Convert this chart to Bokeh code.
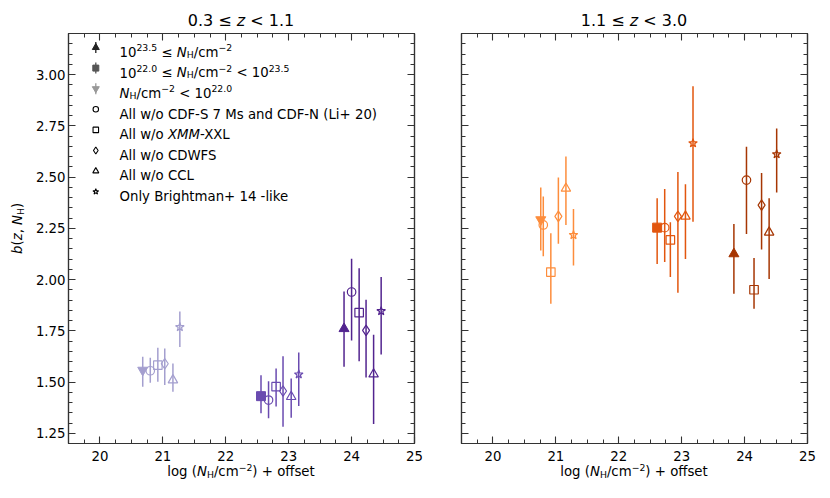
import math
from bokeh.plotting import figure
from bokeh.models import Range1d, Label, LinearAxis, FixedTicker, PrintfTickFormatter, Div
from bokeh.layouts import row, column
from bokeh.embed import file_html
from bokeh.resources import INLINE

# ---------------- data ----------------
panel_titles = [[("0.3 ≤ ", "n"), ("z", "i"), (" < 1.1", "n")],
                [("1.1 ≤ ", "n"), ("z", "i"), (" < 3.0", "n")]]
variants = ["main", "circle", "square", "diamond", "triangle", "star"]

# left panel: 0.3 <= z < 1.1
L_low_x = [20.68, 20.80, 20.92, 21.03, 21.16, 21.27]
L_low_b = [1.558, 1.555, 1.582, 1.589, 1.509, 1.768]
L_low_lo = [1.477, 1.496, 1.501, 1.485, 1.453, 1.671]
L_low_hi = [1.623, 1.618, 1.667, 1.663, 1.590, 1.844]

L_mid_x = [22.56, 22.68, 22.80, 22.91, 23.04, 23.16]
L_mid_b = [1.431, 1.412, 1.477, 1.456, 1.428, 1.537]
L_mid_lo = [1.347, 1.323, 1.380, 1.282, 1.326, 1.383]
L_mid_hi = [1.533, 1.504, 1.566, 1.626, 1.517, 1.644]

L_high_x = [23.88, 24.00, 24.12, 24.23, 24.35, 24.47]
L_high_b = [1.760, 1.939, 1.838, 1.752, 1.538, 1.846]
L_high_lo = [1.574, 1.703, 1.601, 1.522, 1.295, 1.634]
L_high_hi = [1.942, 2.101, 2.055, 1.901, 1.731, 2.012]

# right panel: 1.1 <= z < 3.0
R_low_x = [20.76, 20.80, 20.92, 21.04, 21.16, 21.28]
R_low_b = [2.292, 2.266, 2.036, 2.308, 2.444, 2.217]
R_low_lo = [2.141, 2.114, 1.882, 2.174, 2.266, 2.068]
R_low_hi = [2.449, 2.405, 2.226, 2.498, 2.600, 2.344]

R_mid_x = [22.61, 22.73, 22.82, 22.94, 23.06, 23.18]
R_mid_b = [2.253, 2.253, 2.193, 2.308, 2.308, 2.665]
R_mid_lo = [2.076, 2.085, 2.012, 1.935, 2.100, 2.282]
R_mid_hi = [2.396, 2.441, 2.279, 2.525, 2.465, 2.943]

R_high_x = [23.83, 24.03, 24.15, 24.27, 24.39, 24.51]
R_high_b = [2.125, 2.485, 1.950, 2.363, 2.230, 2.611]
R_high_lo = [1.930, 2.222, 1.857, 2.146, 2.003, 2.425]
R_high_hi = [2.271, 2.647, 2.105, 2.519, 2.396, 2.737]

x_ticks = [20, 21, 22, 23, 24, 25]
y_ticks = [1.25, 1.50, 1.75, 2.00, 2.25, 2.50, 2.75, 3.00]

left_colors = {"low": "#a49fcf", "mid": "#6a4bb0", "high": "#52248f"}
right_colors = {"low": "#fd8d3c", "mid": "#e2560e", "high": "#a63603"}

legend_rows = [
    [("10", "n"), ("23.5", "sup"), (" ≤ ", "n"), ("N", "i"), ("H", "sub"), ("/cm", "n"), ("−2", "sup")],
    [("10", "n"), ("22.0", "sup"), (" ≤ ", "n"), ("N", "i"), ("H", "sub"), ("/cm", "n"), ("−2", "sup"),
     (" < 10", "n"), ("23.5", "sup")],
    [("N", "i"), ("H", "sub"), ("/cm", "n"), ("−2", "sup"), (" < 10", "n"), ("22.0", "sup")],
    [("All w/o CDF-S 7 Ms and CDF-N (Li+ 20)", "n")],
    [("All w/o ", "n"), ("XMM", "i"), ("-XXL", "n")],
    [("All w/o CDWFS", "n")],
    [("All w/o CCL", "n")],
    [("Only Brightman+ 14 -like", "n")],
]
legend_markers = ["triangle", "square", "inverted_triangle", "circle", "square", "diamond", "triangle", "star"]
legend_colors = ["#222222", "#555555", "#999999", "black", "black", "black", "black", "black"]
legend_sizes = [7, 6, 7, 5.5, 5.5, 7, 6, 6]

xlabel_runs = [("log (", "n"), ("N", "i"), ("H", "sub"), ("/cm", "n"), ("−2", "sup"), (")", "n"), (" + offset", "n")]
ylabel_runs = [("b", "i"), ("(", "n"), ("z", "i"), (", ", "n"), ("N", "i"), ("H", "sub"), (")", "n")]

# ---------------- layout constants ----------------
FW, FH = 346, 410
X0, X1 = 19.5, 25.0
Y0, Y1 = 1.2, 3.2
FONT = "DejaVu Sans"
FS = 13.3
AXC = "#333333"
TITLE_H = 29
XLAB_H = 22
BT, BB = 4, 24

W = {' ': .318, '.': .318, ',': .318, '-': .361, '/': .337, '(': .390, ')': .390, '+': .838,
     '<': .838, '≤': .838, '−': .838}
for d in "0123456789":
    W[d] = .636
W.update(dict(A=.684, B=.686, C=.698, D=.770, E=.632, F=.575, G=.775, H=.752, I=.295, J=.295,
              K=.656, L=.557, M=.863, N=.748, O=.787, P=.603, Q=.787, R=.695, S=.635, T=.611,
              U=.732, V=.684, W=.989, X=.685, Y=.611, Z=.685,
              a=.613, b=.635, c=.550, d=.635, e=.615, f=.352, g=.635, h=.634, i=.278, j=.278,
              k=.579, l=.278, m=.974, n=.634, o=.612, p=.635, q=.635, r=.411, s=.521, t=.392,
              u=.634, v=.592, w=.818, x=.592, y=.592, z=.525))


def tw(s, size):
    return sum(W.get(ch, 0.6) for ch in s) * size


def rich(p, runs, x, y, fs, color="black"):
    """Place mixed-style text inside the frame (screen units relative to the frame)."""
    off = 0.0
    for t, st in runs:
        size = fs * 0.7 if st in ("sup", "sub") else fs
        lead = len(t) - len(t.lstrip(" "))
        s = t.strip(" ")
        dy = 0.36 * fs if st == "sup" else (-0.15 * fs if st == "sub" else 0.0)
        if s:
            p.add_layout(Label(x=x + off + tw(" " * lead, size), y=y + dy, x_units="screen",
                               y_units="screen", text=s, text_font=FONT,
                               text_font_size=f"{size:.2f}px",
                               text_font_style="italic" if st == "i" else "normal",
                               text_color=color, text_align="left", text_baseline="alphabetic"))
        off += tw(t, size)


def html(runs):
    out = []
    for t, st in runs:
        t = t.replace("&", "&amp;").replace("<", "&lt;")
        if st == "i":
            out.append(f"<i>{t}</i>")
        elif st == "sup":
            out.append(f'<span style="font-size:70%;position:relative;top:-0.5em">{t}</span>')
        elif st == "sub":
            out.append(f'<span style="font-size:70%;position:relative;top:0.22em">{t}</span>')
        else:
            out.append(t)
    return "".join(out)


BASE = f"font-family:'{FONT}';color:black;white-space:pre;"


def spacer(w, h):
    return Div(text="", width=w, height=h, margin=(0, 0, 0, 0))


def style_axis(ax, labels=True, fmt="%d"):
    ax.major_tick_in = 7
    ax.major_tick_out = 0
    ax.minor_tick_in = 4
    ax.minor_tick_out = 0
    ax.axis_line_color = AXC
    ax.axis_line_width = 1.2
    ax.major_tick_line_color = AXC
    ax.minor_tick_line_color = AXC
    ax.major_tick_line_width = 1.1
    ax.minor_tick_line_width = 1.0
    ax.major_label_text_font = FONT
    ax.formatter = PrintfTickFormatter(format=fmt)
    if labels:
        ax.major_label_text_font_size = f"{FS}px"
        ax.major_label_text_color = "black"
    else:
        ax.major_label_text_font_size = "0px"
        ax.major_label_text_color = None
        ax.major_label_standoff = 0


xtick = FixedTicker(ticks=x_ticks, minor_ticks=[19.5 + 0.25 * i for i in range(23)])
ytick = FixedTicker(ticks=y_ticks, minor_ticks=[round(1.2 + 0.05 * i, 2) for i in range(41)])


def make_panel(idx, groups, colors, border_l, border_r):
    p = figure(frame_width=FW, frame_height=FH, x_range=Range1d(X0, X1), y_range=Range1d(Y0, Y1),
               output_backend="svg", toolbar_location=None, min_border_left=border_l,
               min_border_right=border_r, min_border_top=BT, min_border_bottom=BB,
               x_axis_location=None, y_axis_location=None, title=None)
    p.grid.visible = False
    p.outline_line_color = AXC
    p.outline_line_width = 1.2
    p.background_fill_color = "white"
    p.border_fill_color = "white"

    bx = LinearAxis(ticker=xtick)
    style_axis(bx, True, "%d")
    bx.major_label_standoff = 7
    p.add_layout(bx, "below")
    tx = LinearAxis(ticker=xtick)
    style_axis(tx, False)
    p.add_layout(tx, "above")
    ly = LinearAxis(ticker=ytick)
    style_axis(ly, idx == 0, "%.2f")
    if idx == 0:
        ly.major_label_standoff = 3
    p.add_layout(ly, "left")
    ry = LinearAxis(ticker=ytick)
    style_axis(ry, False)
    p.add_layout(ry, "right")

    main_marker = {"low": "inverted_triangle", "mid": "square", "high": "triangle"}
    sizes = {"inverted_triangle": 10, "square": 8.5, "triangle": 10, "circle": 8.5,
             "diamond": 10.5, "star": 9}
    for cls, (xs, bs, los, his) in groups.items():
        c = colors[cls]
        p.segment(x0=xs, y0=los, x1=xs, y1=his, line_color=c, line_width=1.5)
        for k, var in enumerate(variants):
            if var == "main":
                m = main_marker[cls]
                s = sizes[m] + (0.5 if m == "square" else 0)
                p.scatter(x=[xs[k]], y=[bs[k]], marker=m, size=s, fill_color=c, line_color=c,
                          line_width=1.0)
            else:
                s = sizes[var] if var != "triangle" else 9.5
                p.scatter(x=[xs[k]], y=[bs[k]], marker=var, size=s, fill_color=None,
                          line_color=c, line_width=1.2)
    return p


p1 = make_panel(0, {"low": (L_low_x, L_low_b, L_low_lo, L_low_hi),
                    "mid": (L_mid_x, L_mid_b, L_mid_lo, L_mid_hi),
                    "high": (L_high_x, L_high_b, L_high_lo, L_high_hi)}, left_colors, 40, 20)
p2 = make_panel(1, {"low": (R_low_x, R_low_b, R_low_lo, R_low_hi),
                    "mid": (R_mid_x, R_mid_b, R_mid_lo, R_mid_hi),
                    "high": (R_high_x, R_high_b, R_high_lo, R_high_hi)}, right_colors, 27, 20)

# legend (left panel)
px_x = FW / (X1 - X0)
px_y = FH / (Y1 - Y0)
for i, runs in enumerate(legend_rows):
    off = 14 + 20.6 * i
    yd = Y1 - off / px_y
    xd = X0 + 27.3 / px_x
    col = legend_colors[i]
    if i < 3:
        p1.segment(x0=[xd], y0=[yd - 5.5 / px_y], x1=[xd], y1=[yd + 5.5 / px_y], line_color=col,
                   line_width=1.3)
        p1.scatter(x=[xd], y=[yd], marker=legend_markers[i], size=legend_sizes[i], fill_color=col,
                   line_color=col)
    else:
        p1.scatter(x=[xd], y=[yd], marker=legend_markers[i], size=legend_sizes[i], fill_color=None,
                   line_color=col, line_width=1.1)
    rich(p1, runs, 51, FH - (off + 4.8), FS)

# ---------------- outer texts (HTML) ----------------
def title_div(runs):
    t = (f'<div style="{BASE}width:{FW}px;height:{TITLE_H}px;box-sizing:border-box;padding-top:13px;'
         f'text-align:center;font-size:16px;line-height:16px">{html(runs)}</div>')
    return Div(text=t, width=FW, height=TITLE_H, margin=(0, 0, 0, 0))


def xlabel_div():
    t = (f'<div style="{BASE}width:{FW}px;position:relative;top:-3px;text-align:center;'
         f'font-size:{FS}px;line-height:16px">{html(xlabel_runs)}</div>')
    return Div(text=t, width=FW, height=XLAB_H, margin=(0, 0, 0, 0))


YL_W = 28
fig_h = BT + FH + BB
yl_w = tw("b(z, N)", FS) + tw("H", FS * 0.7)
yl_top = (228 - TITLE_H) + yl_w / 2
ylab = Div(text=(f'<div style="position:relative;width:{YL_W}px;height:{fig_h}px">'
                 f'<div style="{BASE}position:absolute;left:10px;top:{yl_top:.1f}px;'
                 f'transform:rotate(-90deg);transform-origin:0 0;font-size:{FS}px;line-height:16px">'
                 f'{html(ylabel_runs)}</div></div>'),
           width=YL_W, height=fig_h, margin=(0, 0, 0, 0))

gap = 20 + 27
top_row = row(spacer(YL_W + 40, TITLE_H), title_div(panel_titles[0]), spacer(gap, TITLE_H),
              title_div(panel_titles[1]))
mid_row = row(ylab, p1, p2)
bot_row = row(spacer(YL_W + 40, XLAB_H), xlabel_div(), spacer(gap, XLAB_H), xlabel_div())
layout = column(top_row, mid_row, bot_row)

open("out.html", "w").write(file_html(layout, INLINE))
